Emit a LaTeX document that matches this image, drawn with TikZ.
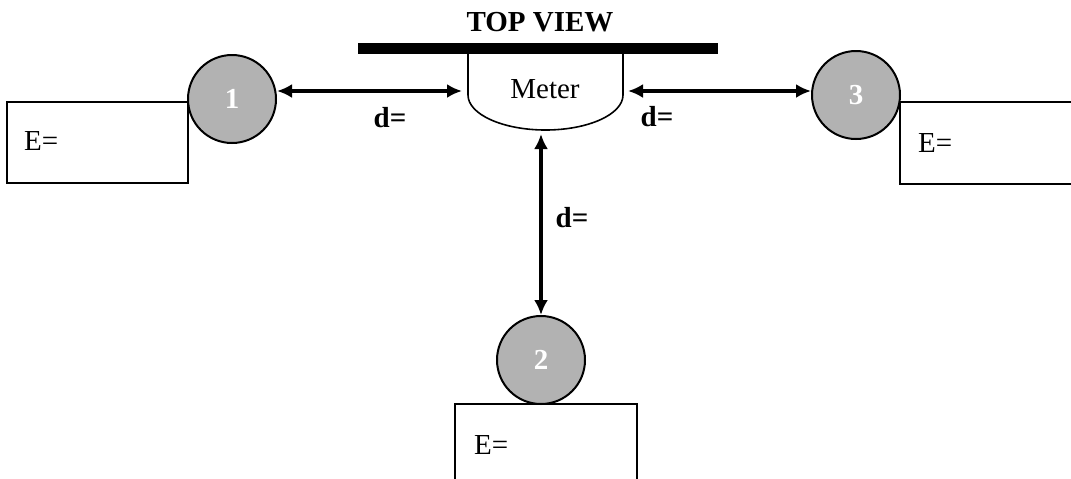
\documentclass[tikz,border=0pt]{standalone}
\usepackage{fontspec}
\setmainfont{Liberation Serif}
\usetikzlibrary{arrows.meta}
\newcommand{\labsize}{\fontsize{14.5}{17}\selectfont}
\tikzset{ball/.style={circle, draw, line width=1pt, fill=black!30, text=white, font=\labsize\bfseries, minimum size=44pt, inner sep=0pt}}
\tikzset{dbl/.style={{Latex[length=7.5pt,width=7pt]}-{Latex[length=7.5pt,width=7pt]}, line width=1.6pt}}
\tikzset{card/.style={line width=1pt}}
\tikzset{tag/.style={font=\labsize\bfseries}}

\begin{document}
\begin{tikzpicture}[x=0.5pt,y=-0.5pt, font=\labsize]
	\useasboundingbox (0,0) rectangle (1071,478);
	\clip (0,0) rectangle (1071,478);
	% answer boxes
	\draw[card] (7,102) rectangle (188,183);
	\draw[card] (455,404) rectangle (637,490);
	\draw[card] (900,102) rectangle (1080,184);
	\node[anchor=west] (e1) at (17,141) {E=};
	\node[anchor=west] (e2) at (467,445) {E=};
	\node[anchor=west] (e3) at (911,143) {E=};
	% wall and meter
	\node[tag] (title) at (540,22) {TOP VIEW};
	\fill (358,43) rectangle (718,54);
	\draw[line width=0.8pt, fill=white] (468,54) -- (468,95) .. controls (468,114.3) and (502.7,130) .. (545.5,130) .. controls (588.3,130) and (623,114.3) .. (623,95) -- (623,54);
	\node (meter) at (545,89) {Meter};
	\coordinate (mL) at (462,91);
	\coordinate (mR) at (628,91);
	\coordinate (mB) at (541,134);
	% sources
	\node[ball] (b1) at (232,99) {1};
	\node[ball] (b2) at (541,360) {2};
	\node[ball] (b3) at (856,95) {3};
	\draw[dbl] (mL -| b1.east) -- (mL);
	\draw[dbl] (mR) -- (mR -| b3.west);
	\draw[dbl] (mB) -- (b2.north);
	\node[tag] (d1) at (390,118) {d=};
	\node[tag] (d3) at (657,117) {d=};
	\node[tag] (d2) at (572,218) {d=};
\end{tikzpicture}
\end{document}
